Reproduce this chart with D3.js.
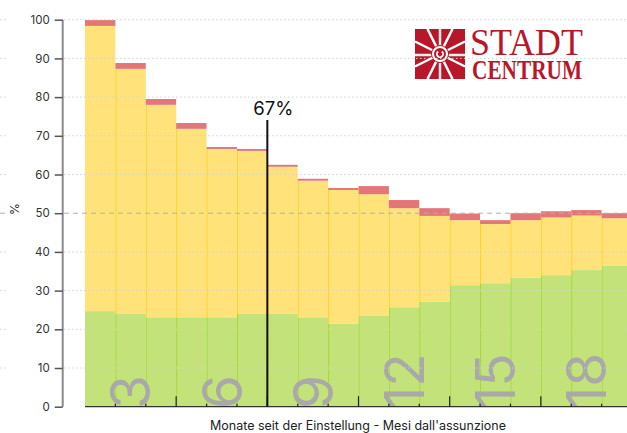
<!DOCTYPE html>
<html>
  <head>
    <title>Monate seit der Einstellung</title>
    <script src="https://cdn.jsdelivr.net/npm/d3@7"></script>
    <style>
      body { margin: 0; background: #fff; }
      text { font-family: Inter, "Noto Sans", sans-serif; }
    </style>
  </head>
  <body>
    <svg width="627" height="433" id="mainsvg"></svg>
    <script>
      // data (percent)
      const months = [1,2,3,4,5,6,7,8,9,10,11,12,13,14,15,16,17,18];
      const greenTop  = [24.7,24.1,23.1,23.1,23.1,24.1,24.1,23.1,21.5,23.6,25.7,27.2,31.4,31.9,33.4,34.0,35.3,36.4];
      const yellowTop = [98.4,87.3,78.0,71.8,66.6,66.1,62.0,58.4,56.0,54.9,51.3,49.3,48.2,47.2,48.2,48.9,49.4,48.7];
      const redTop    = [99.9,88.8,79.5,73.3,67.1,66.6,62.5,58.9,56.5,57.0,53.4,51.3,49.9,48.2,50.0,50.5,50.8,50.0];
      const yTicks = [0,10,20,30,40,50,60,70,80,90,100];
      const monthLabels = [3,6,9,12,15,18];
      const markerMonth = 6;
      const markerText = '67%';
      const xAxisLabel = "Monate seit der Einstellung - Mesi dall'assunzione";
      const yAxisLabel = '%';

      const svg = d3.select('#mainsvg');
      const width = +svg.attr('width');

      const table = months.map((m, i) => ({
        month: m,
        green: greenTop[i],
        yellow: yellowTop[i] - greenTop[i],
        red: redTop[i] - yellowTop[i]
      }));
      const keys = ['green', 'yellow', 'red'];
      const fills = {green: '#c3e27a', yellow: '#ffe27a', red: '#e37676'};
      const edges = {green: '#a5d83c', yellow: '#fdd22e', red: '#e37676'};

      const xScale = d3.scaleLinear().domain([0, 18]).range([85, 632]);
      const yScale = d3.scaleLinear().domain([0, 100]).range([406.7, 19.7]);

      const stacked = d3.stack().keys(keys)(table);

      // logo
      const logo = svg.append('g').attr('transform', 'translate(415, 29)');
      const red = '#b8172a';
      logo.append('rect').attr('width', 50).attr('height', 50).attr('fill', red);
      const rays = [[12.5,0],[37.5,0],[50,12.5],[50,37.5],[37.5,50],[12.5,50],[0,37.5],[0,12.5]];
      logo.selectAll('line.ray').data(rays).join('line')
        .attr('x1', d => d[0]).attr('y1', d => d[1])
        .attr('x2', 25).attr('y2', 25)
        .attr('stroke', '#fff').attr('stroke-width', 2.5);
      logo.append('line').attr('x1', 25).attr('x2', 25).attr('y1', 0).attr('y2', 50)
        .attr('stroke', '#ececec').attr('stroke-width', 2.5);
      logo.append('line').attr('x1', 0).attr('x2', 50).attr('y1', 26).attr('y2', 26)
        .attr('stroke', '#ececec').attr('stroke-width', 2.5);
      logo.append('circle').attr('cx', 25).attr('cy', 25).attr('r', 9).attr('fill', red);
      logo.append('circle').attr('cx', 25).attr('cy', 25).attr('r', 7).attr('fill', 'none')
        .attr('stroke', '#fff').attr('stroke-width', 2);
      logo.append('path').attr('d', d3.arc()({innerRadius: 2.2, outerRadius: 4, startAngle: 0.6, endAngle: 2 * Math.PI - 0.6}))
        .attr('transform', 'translate(25,25)').attr('fill', '#fff');
      const logoText = svg.append('text')
        .style('font-family', '"Liberation Serif", "DejaVu Serif", serif')
        .attr('fill', red);
      logoText.append('tspan').attr('x', 470).attr('y', 55)
        .attr('textLength', 113).attr('lengthAdjust', 'spacingAndGlyphs')
        .style('font-size', '38px').text('STADT');
      logoText.append('tspan').attr('x', 472).attr('y', 79)
        .attr('textLength', 110).attr('lengthAdjust', 'spacingAndGlyphs')
        .style('font-weight', 'bold')
        .style('font-size', '27px').text('CENTRUM');

      // bars
      const g = svg.append('g');
      stacked.forEach(series => {
        g.selectAll('rect.' + series.key).data(series).join('rect')
          .attr('class', series.key)
          .attr('x', d => xScale(d.data.month - 1))
          .attr('width', d => xScale(d.data.month) - xScale(d.data.month - 1))
          .attr('y', d => yScale(d[1]))
          .attr('height', d => yScale(d[0]) - yScale(d[1]))
          .attr('fill', fills[series.key]);
        if (series.key !== 'red') {
          g.selectAll('line.' + series.key).data(series.filter(d => d.data.month > 1)).join('line')
            .attr('class', series.key)
            .attr('x1', d => xScale(d.data.month - 1) + 0.5)
            .attr('x2', d => xScale(d.data.month - 1) + 0.5)
            .attr('y1', d => yScale(d[1]))
            .attr('y2', d => yScale(d[0]))
            .attr('stroke', edges[series.key]).attr('stroke-width', 1);
        }
      });

      // big month numbers
      g.selectAll('text.month').data(monthLabels).join('text')
        .attr('class', 'month')
        .attr('transform', d => `translate(${xScale(d - 1.5)}, 409) rotate(-90)`)
        .attr('dy', '0.36em')
        .style('font-size', '55px')
        .attr('fill', '#a9a9a9')
        .text(d => d);

      // gridlines
      const grid = svg.append('g');
      yTicks.filter(t => t > 0).forEach(t => {
        const y = yScale(t);
        const dashed = t === 50;
        [[0, 8], [64, width]].forEach(seg => {
          grid.append('line')
            .attr('x1', seg[0]).attr('x2', seg[1]).attr('y1', y).attr('y2', y)
            .attr('stroke', dashed ? '#b0b0b0' : '#d2d2d2')
            .attr('stroke-width', 1)
            .attr('stroke-dasharray', dashed ? '5,4' : '1.5,2.5');
        });
      });

      // y axis
      const yAxis = svg.append('g').attr('transform', 'translate(62.7, 0)')
        .call(d3.axisLeft(yScale).tickValues(yTicks).tickSize(8).tickPadding(5));
      yAxis.select('.domain').attr('stroke', '#8a8a8a').attr('stroke-width', 2)
        .attr('d', `M0,${yScale(100)}V${yScale(0)}`);
      yAxis.selectAll('.tick line').attr('stroke', '#555').attr('stroke-width', 1.5);
      yAxis.selectAll('.tick text').style('font-family', 'Inter, sans-serif')
        .style('font-size', '11.5px').attr('fill', '#333');

      svg.append('text')
        .attr('transform', `translate(19, ${yScale(50) - 4}) rotate(-90)`)
        .attr('text-anchor', 'middle')
        .style('font-size', '12px').attr('fill', '#333')
        .text(yAxisLabel);

      // x axis
      const xg = svg.append('g');
      xg.append('line').attr('x1', xScale(0)).attr('x2', width)
        .attr('y1', yScale(0)).attr('y2', yScale(0))
        .attr('stroke', '#333').attr('stroke-width', 1.2);
      xg.selectAll('line.tick').data(d3.range(1, 19)).join('line')
        .attr('class', 'tick')
        .attr('x1', d => xScale(d)).attr('x2', d => xScale(d))
        .attr('y1', yScale(0))
        .attr('y2', d => yScale(0) - (d % 3 === 0 ? 10.5 : 3))
        .attr('stroke', '#222').attr('stroke-width', 1.2);

      svg.append('text')
        .attr('x', 358).attr('y', 429.5)
        .attr('text-anchor', 'middle')
        .style('font-size', '12.5px').attr('fill', '#222')
        .text(xAxisLabel);

      // 67% marker
      svg.append('line')
        .attr('x1', xScale(markerMonth)).attr('x2', xScale(markerMonth))
        .attr('y1', 120).attr('y2', yScale(0))
        .attr('stroke', '#111').attr('stroke-width', 2);
      svg.append('text')
        .attr('x', xScale(markerMonth) + 6).attr('y', 115)
        .attr('text-anchor', 'middle')
        .style('font-size', '18.5px').attr('fill', '#111')
        .text(markerText);
    </script>
  </body>
</html>
